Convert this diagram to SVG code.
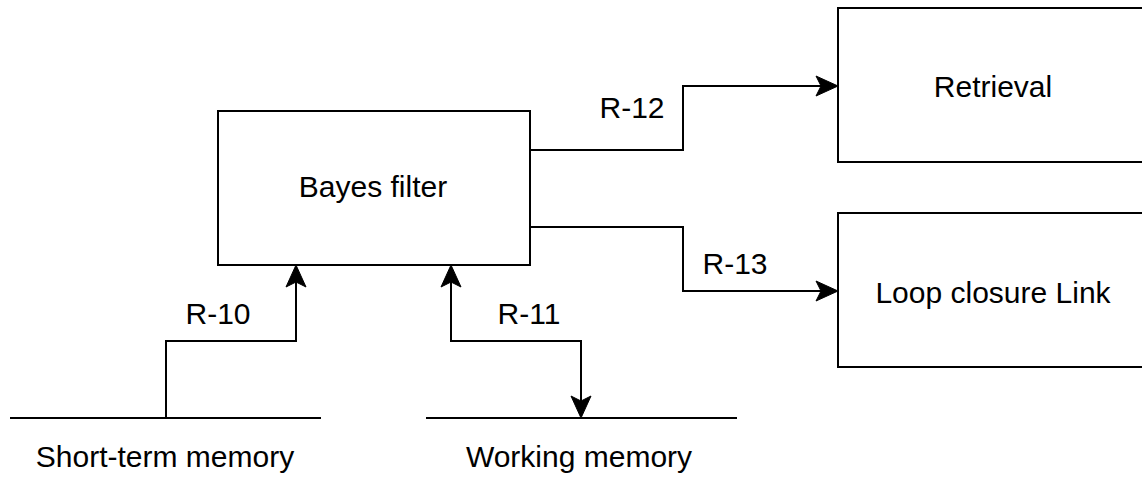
<svg xmlns="http://www.w3.org/2000/svg" width="1142" height="492" viewBox="0 0 1142 492">
<style>
  .box { fill: #ffffff; stroke: #000000; stroke-width: 2; }
  .lbl { font-family: "Liberation Sans", Arial, sans-serif; font-size: 30px; fill: #000000; text-anchor: middle; }
  .conn { fill: none; stroke: #000000; stroke-width: 2; }
  .arr { marker-end: url(#arrow); }
  .arr2 { marker-start: url(#arrow); marker-end: url(#arrow); }
</style>
<defs>
  <marker id="arrow" markerUnits="userSpaceOnUse" viewBox="-14 -12 26 24" refX="0" refY="0" markerWidth="26" markerHeight="24" orient="auto-start-reverse">
    <path d="M10,0 L-12,-10 L-7,0 L-12,10 Z" fill="#000000" stroke="#000000" stroke-width="1"/>
  </marker>
</defs>
<rect width="1142" height="492" fill="#ffffff"/>
<g id="connectors">
  <path class="conn arr" d="M166,418 V341 H296 V275"/>
  <path class="conn arr2" d="M451,275 V341 H581 V408"/>
  <path class="conn arr" d="M530,150 H683 V86 H828"/>
  <path class="conn arr" d="M530,227 H683 V291 H828"/>
  <text class="lbl" x="218" y="324">R-10</text>
  <text class="lbl" x="529" y="324">R-11</text>
  <text class="lbl" x="632" y="118">R-12</text>
  <text class="lbl" x="735" y="274">R-13</text>
</g>
<g id="bayes">
  <rect class="box" x="218" y="111" width="312" height="154"/>
  <text class="lbl" x="373" y="197">Bayes filter</text>
</g>
<g id="retrieval">
  <rect class="box" x="838" y="8" width="312" height="154"/>
  <text class="lbl" x="993" y="97">Retrieval</text>
</g>
<g id="loop">
  <rect class="box" x="838" y="213" width="312" height="154"/>
  <text class="lbl" x="993" y="303">Loop closure Link</text>
</g>
<g id="stm">
  <path class="conn" d="M10,418 H321"/>
  <text class="lbl" x="165" y="467">Short-term memory</text>
</g>
<g id="wm">
  <path class="conn" d="M426,418 H737"/>
  <text class="lbl" x="579" y="467">Working memory</text>
</g>
</svg>
